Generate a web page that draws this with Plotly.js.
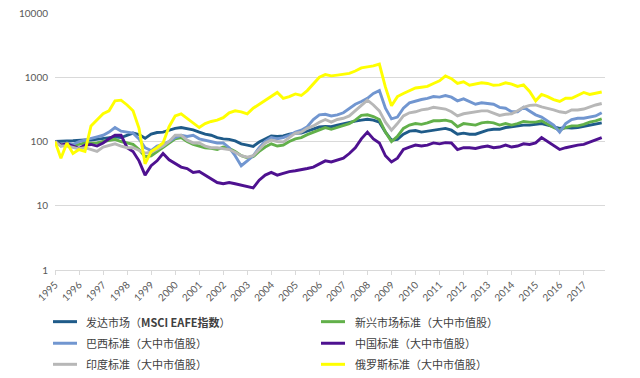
<!DOCTYPE html>
<html>
<head>
<meta charset="utf-8">
<script src="https://cdn.plot.ly/plotly-3.0.1.min.js"></script>
<style>html,body{margin:0;padding:0;background:#fff;}#chart{width:640px;height:378px;}</style>
</head>
<body>
<div id="chart"></div>
<script>
// Quarterly dates
var dates = [
'1995-01','1995-04','1995-07','1995-10','1996-01','1996-04','1996-07','1996-10',
'1997-01','1997-04','1997-07','1997-10','1998-01','1998-04','1998-07','1998-10',
'1999-01','1999-04','1999-07','1999-10','2000-01','2000-04','2000-07','2000-10',
'2001-01','2001-04','2001-07','2001-10','2002-01','2002-04','2002-07','2002-10',
'2003-01','2003-04','2003-07','2003-10','2004-01','2004-04','2004-07','2004-10',
'2005-01','2005-04','2005-07','2005-10','2006-01','2006-04','2006-07','2006-10',
'2007-01','2007-04','2007-07','2007-10','2008-01','2008-04','2008-07','2008-10',
'2009-01','2009-04','2009-07','2009-10','2010-01','2010-04','2010-07','2010-10',
'2011-01','2011-04','2011-07','2011-10','2012-01','2012-04','2012-07','2012-10',
'2013-01','2013-04','2013-07','2013-10','2014-01','2014-04','2014-07','2014-10',
'2015-01','2015-04','2015-07','2015-10','2016-01','2016-04','2016-07','2016-10',
'2017-01','2017-04','2017-07','2017-10'
];

var eafe = [100,100,102,103,105,106,105,108,110,112,118,115,125,135,128,112,
130,138,140,150,160,165,158,152,140,130,125,115,110,108,102,92,
88,84,98,110,122,120,122,130,135,135,145,155,168,172,170,180,
190,200,208,215,222,215,200,140,105,108,130,145,148,140,145,150,
155,160,150,130,135,130,130,140,150,155,155,165,170,175,180,180,
185,190,180,170,160,165,162,165,172,180,190,195];

var em = [100,88,92,88,90,95,93,95,100,105,108,100,95,90,75,58,
60,70,80,95,110,115,100,90,85,80,78,75,82,78,70,60,
56,58,70,82,92,85,88,100,110,115,128,140,155,165,155,165,
175,190,215,255,260,245,220,140,100,120,160,180,190,185,195,210,
210,215,205,170,190,185,180,195,200,195,180,190,180,190,205,200,
200,210,185,165,150,165,175,175,185,200,210,225];

var brazil = [100,85,95,90,100,105,110,118,125,140,165,145,140,135,110,80,
72,85,90,100,115,125,120,125,110,105,100,95,95,80,60,42,
50,60,80,100,115,110,115,125,140,150,170,220,260,265,250,260,
280,330,380,420,470,560,620,330,225,240,330,400,430,450,470,500,
490,520,490,430,460,420,380,400,390,380,340,330,290,290,340,300,
260,240,210,180,140,190,220,230,230,240,250,280];

var china = [100,88,92,85,78,88,90,85,95,110,125,125,80,70,50,30,
42,50,65,52,45,40,38,33,34,30,26,23,22,23,22,21,
20,19,25,30,33,30,32,34,35,36,38,40,45,50,48,52,
55,65,80,110,140,110,95,60,48,55,75,82,88,85,88,95,
92,96,95,75,80,80,78,82,85,80,82,88,82,85,92,90,
95,115,100,85,75,80,85,88,90,98,105,115];

var india = [100,85,85,80,77,80,75,70,82,88,92,85,80,80,72,66,
68,75,85,100,125,125,105,95,95,85,80,80,78,75,68,60,
57,60,75,95,105,100,98,115,135,140,160,175,200,220,200,220,
230,250,300,360,440,370,300,200,150,190,250,280,290,310,320,340,
330,320,290,250,270,280,285,300,300,280,255,265,270,300,340,365,
370,345,330,310,290,280,310,310,320,345,370,390];

var russia = [100,55,95,65,75,70,175,220,270,300,430,440,370,300,160,45,
70,80,95,170,250,270,230,200,165,190,205,215,235,280,300,290,
270,330,380,430,490,580,470,500,550,520,620,800,1000,1100,1050,1080,
1130,1150,1250,1400,1450,1500,1600,700,360,500,560,620,680,700,720,800,
880,1050,950,800,850,750,780,820,800,750,760,820,780,720,760,600,
430,540,500,450,420,470,470,520,580,540,560,590];

var seriesNames = ['发达市场（<b>MSCI EAFE指数</b>）','新兴市场标准（大中市值股）','巴西标准（大中市值股）',
                   '中国标准（大中市值股）','印度标准（大中市值股）','俄罗斯标准（大中市值股）'];
var seriesData = [eafe, em, brazil, china, india, russia];
var seriesColors = ['#1f5b89','#62b04a','#7196d0','#4e1190','#b7b7b7','#ffff00'];

var yearLabels = ['1995','1996','1997','1998','1999','2000','2001','2002','2003','2004','2005','2006',
                  '2007','2008','2009','2010','2011','2012','2013','2014','2015','2016','2017'];
var yTickVals = [1,10,100,1000,10000];
var yTickText = ['1','10','100','1000','10000'];

var traces = seriesData.map(function(d,i){
  return {x: dates, y: d, type:'scatter', mode:'lines', name: seriesNames[i],
          line:{color: seriesColors[i], width:2.9}, showlegend:false};
});

// Manual two-column legend (row-wise order, like the original)
var legCols = [[-0.0036, 0.040, 0.0527], [0.4836, 0.5273, 0.5418]];
var legRows = [-0.201, -0.285, -0.367];
var shapes = [], annotations = [];
seriesNames.forEach(function(n, i){
  var c = legCols[i % 2], r = legRows[Math.floor(i / 2)];
  shapes.push({type:'line', xref:'paper', yref:'paper', x0:c[0], x1:c[1], y0:r, y1:r,
               line:{color:seriesColors[i], width:3}});
  annotations.push({xref:'paper', yref:'paper', x:c[2], y:r, xanchor:'left', yanchor:'middle',
                    text:n, showarrow:false,
                    font:{family:'"Noto Sans CJK SC", sans-serif', size:11, color:'#404040'}});
});

var layout = {
  width:640, height:378,
  margin:{l:55, r:35, t:13, b:108},
  paper_bgcolor:'#ffffff', plot_bgcolor:'#ffffff',
  font:{family:'Lato, "Noto Sans CJK SC", sans-serif', color:'#595959', size:10},
  xaxis:{
    type:'date',
    range:['1995-01-01','2017-11-20'],
    tickvals: yearLabels.map(function(y){return y+'-01-01';}),
    ticktext: yearLabels,
    tickangle:-45,
    ticks:'outside', ticklen:4, tickcolor:'#d9d9d9',
    showline:true, linecolor:'#d9d9d9', linewidth:1,
    showgrid:false, zeroline:false,
    tickfont:{size:10, color:'#595959'}
  },
  yaxis:{
    type:'log', range:[0,4],
    tickvals:yTickVals, ticktext:yTickText,
    showgrid:true, gridcolor:'#d9d9d9', gridwidth:1,
    zeroline:false, showline:false,
    tickfont:{size:10, color:'#595959'}, ticks:'', ticklabelstandoff:6
  },
  showlegend:false,
  shapes: shapes,
  annotations: annotations
};

Plotly.newPlot('chart', traces, layout, {displayModeBar:false, staticPlot:true});
</script>
</body>
</html>
